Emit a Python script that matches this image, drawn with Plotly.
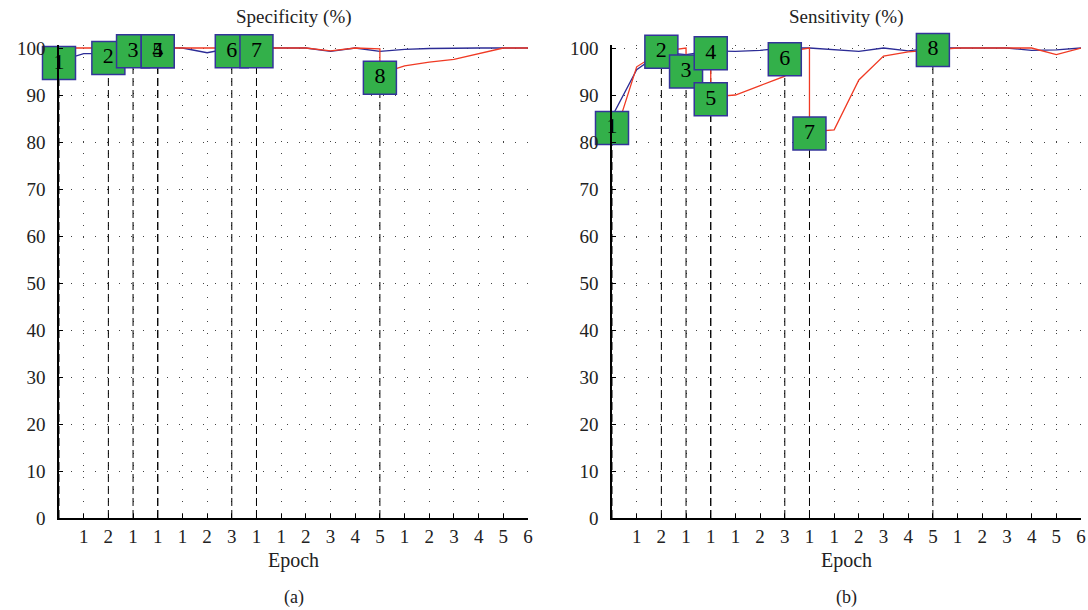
import plotly.graph_objects as go

# ---------------- data ----------------
x_tick_vals = list(range(1, 20))
x_tick_text = ["1", "2", "1", "1", "1", "2", "3", "1", "1", "2",
               "3", "4", "5", "1", "2", "3", "4", "5", "6"]
y_tick_vals = [0, 10, 20, 30, 40, 50, 60, 70, 80, 90, 100]

# (a) Specificity
spec_blue_x = list(range(20))
spec_blue_y = [97.2, 98.8, 98.8, 100, 100, 100, 99.0, 100, 100, 100,
               100, 99.3, 100, 99.3, 99.7, 99.9, 100, 100, 100, 100]
spec_red_x = [0, 1, 2, 3, 4, 5, 6, 7, 8, 9, 10, 11, 12, 13, 13, 14, 15, 16, 17, 18, 19]
spec_red_y = [100, 100, 100, 100, 100, 100, 100, 100, 100, 100, 100, 99.4, 100, 99.8,
              94.5, 96.2, 97.0, 97.6, 98.8, 100, 100]
spec_box_x = [0, 2, 3, 4, 4, 7, 8, 13]
spec_box_y = [96.8, 97.9, 99.3, 99.3, 99.3, 99.3, 99.3, 93.7]
spec_box_lbl = ["1", "2", "3", "4", "5", "6", "7", "8"]

# (b) Sensitivity
sens_blue_x = list(range(20))
sens_blue_y = [85.4, 95.4, 99.1, 98.6, 99.4, 99.3, 99.5, 100, 100, 99.7,
               99.3, 100, 99.4, 100, 100, 100, 100, 99.5, 99.6, 100]
sens_red_x = [0, 1, 2, 3, 3, 4, 4, 5, 6, 7, 7, 8, 8, 9, 10, 11, 12, 13, 14, 15, 16, 17, 18, 19]
sens_red_y = [79.5, 96.0, 99.3, 100, 96.0, 96.0, 89.6, 90.0, 92.0, 94.0, 99.2, 100, 82.2,
              82.6, 93.2, 98.3, 99.2, 99.6, 100, 100, 100, 100, 98.6, 100]
sens_box_x = [0, 2, 3, 4, 4, 7, 8, 13]
sens_box_y = [83.0, 99.2, 95.0, 98.9, 89.1, 97.6, 81.8, 99.6]
sens_box_lbl = ["1", "2", "3", "4", "5", "6", "7", "8"]

# ---------------- style ----------------
FONT = "Liberation Serif"
FS = 19
RED = "#f03a24"
BLUE = "#2c2c96"
GREEN = "#33b04a"
BOX_EDGE = "#34349a"
GRID = "#444444"

fig = go.Figure()

panels = [
    ("x", "y", spec_blue_x, spec_blue_y, spec_red_x, spec_red_y, spec_box_x, spec_box_y, spec_box_lbl),
    ("x2", "y2", sens_blue_x, sens_blue_y, sens_red_x, sens_red_y, sens_box_x, sens_box_y, sens_box_lbl),
]

for xa, ya, bx, by, rx, ry, kx, ky, kl in panels:
    for px, py in zip(kx, ky):
        fig.add_trace(go.Scatter(x=[px, px], y=[0, py], mode="lines",
                                 line=dict(color="black", width=1, dash="8px,4px"),
                                 xaxis=xa, yaxis=ya, showlegend=False, hoverinfo="skip"))
    fig.add_trace(go.Scatter(x=bx, y=by, mode="lines", line=dict(color=BLUE, width=1.3),
                             xaxis=xa, yaxis=ya, showlegend=False))
    fig.add_trace(go.Scatter(x=rx, y=ry, mode="lines", line=dict(color=RED, width=1.3),
                             xaxis=xa, yaxis=ya, showlegend=False))
    fig.add_trace(go.Scatter(x=kx, y=ky, mode="markers+text", text=kl,
                             textposition="middle center",
                             textfont=dict(family=FONT, size=22, color="black"),
                             marker=dict(symbol="square", size=33, color=GREEN,
                                         line=dict(color=BOX_EDGE, width=1.5)),
                             cliponaxis=False,
                             xaxis=xa, yaxis=ya, showlegend=False))

W, H = 1088, 610
xdom = [[59 / W, 528 / W], [612 / W, 1081 / W]]
ydom = [(H - 518) / H, (H - 45.2) / H]

axis_common = dict(
    showline=True, linecolor="black", linewidth=1.5, mirror=False,
    ticks="inside", ticklen=4, tickcolor="black", tickwidth=1,
    showgrid=True, gridcolor=GRID, gridwidth=1, griddash="1px,11px",
    zeroline=False, automargin=False,
    tickfont=dict(family=FONT, size=FS, color="#222"),
)

fig.update_layout(
    width=W, height=H,
    margin=dict(l=0, r=0, t=0, b=0, pad=0),
    paper_bgcolor="white", plot_bgcolor="white",
    xaxis=dict(domain=xdom[0], range=[0, 19], tickvals=x_tick_vals, ticktext=x_tick_text,
               anchor="y", **axis_common),
    yaxis=dict(domain=ydom, range=[0, 100.6], tickvals=y_tick_vals, anchor="x",
               ticklabelstandoff=8, **axis_common),
    xaxis2=dict(domain=xdom[1], range=[0, 19], tickvals=x_tick_vals, ticktext=x_tick_text,
                anchor="y2", **axis_common),
    yaxis2=dict(domain=ydom, range=[0, 100.6], tickvals=y_tick_vals, anchor="x2",
                ticklabelstandoff=8, **axis_common),
    showlegend=False,
)

titles = [("Specificity (%)", "(a)", sum(xdom[0]) / 2), ("Sensitivity (%)", "(b)", sum(xdom[1]) / 2)]
for t, sub, cx in titles:
    for txt, ypx, fs in [(t, 17, FS), ("Epoch", 560, FS + 1), (sub, 597, FS - 1)]:
        fig.add_annotation(text=txt, x=cx, y=(H - ypx) / H, xref="paper", yref="paper",
                           showarrow=False, font=dict(family=FONT, size=fs, color="#222"),
                           xanchor="center", yanchor="middle")

fig.write_html("out.html",
               config={"displayModeBar": False},
               post_script="document.body.style.margin='0px';document.body.style.overflow='hidden';")
